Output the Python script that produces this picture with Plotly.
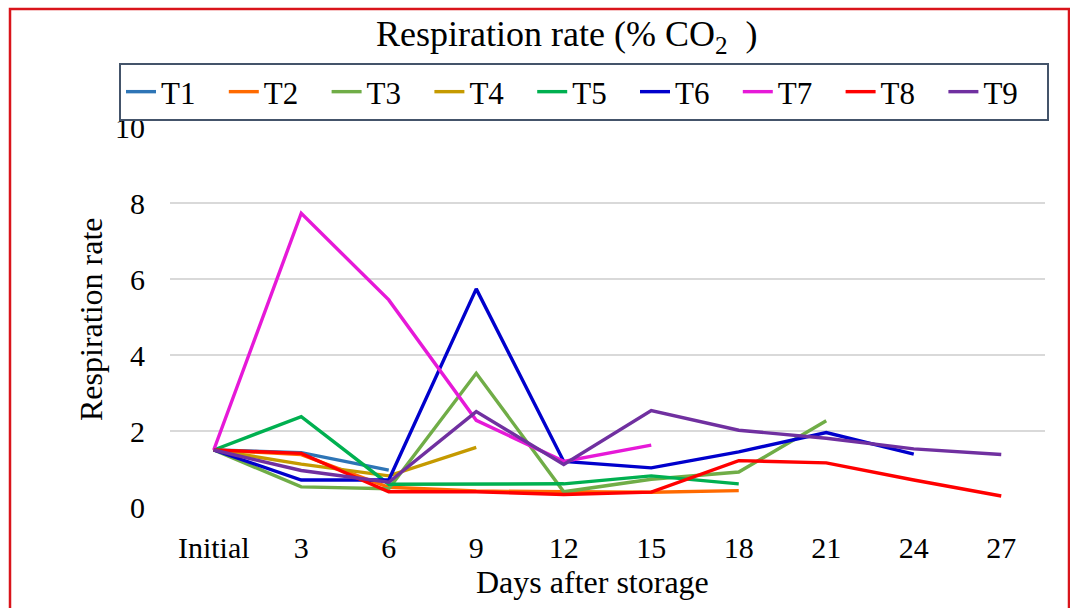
import plotly.graph_objects as go

categories = ["Initial", "3", "6", "9", "12", "15", "18", "21", "24", "27"]
series_names = ["T1", "T2", "T3", "T4", "T5", "T6", "T7", "T8", "T9"]

T1 = [1.5, 1.43, 0.97]
T2 = [1.5, 1.38, 0.52, 0.42, 0.40, 0.39, 0.43]
T3 = [1.5, 0.53, 0.48, 3.52, 0.40, 0.73, 0.92, 2.27]
T4 = [1.5, 1.13, 0.82, 1.57]
T5 = [1.5, 2.38, 0.60, 0.60, 0.61, 0.82, 0.61]
T6 = [1.5, 0.71, 0.71, 5.74, 1.20, 1.03, 1.45, 1.96, 1.39]
T7 = [1.5, 7.73, 5.45, 2.28, 1.20, 1.63]
T8 = [1.5, 1.41, 0.40, 0.40, 0.33, 0.39, 1.22, 1.16, 0.71, 0.29]
T9 = [1.5, 0.96, 0.65, 2.51, 1.12, 2.54, 2.02, 1.81, 1.53, 1.38]

values = [T1, T2, T3, T4, T5, T6, T7, T8, T9]
colors = ["#2E75B6", "#FF6A00", "#70AD47", "#C59A00", "#00B050",
          "#0000CC", "#E619D8", "#FF0000", "#7030A0"]

FONT = "Liberation Serif"

# layout geometry (pixels)
W, H = 1070, 608
L, R, T, B = 170, 25, 127, 101
PW, PH = W - L - R, H - T - B


def px_x(p):
    return (p - L) / PW


def px_y(p):
    return (H - B - p) / PH


fig = go.Figure()
for name, vals, col in zip(series_names, values, colors):
    fig.add_trace(go.Scatter(
        x=categories[:len(vals)], y=vals, name=name, mode="lines",
        line=dict(color=col, width=3.4),
    ))

fig.update_layout(
    width=W, height=H,
    margin=dict(l=L, r=R, t=T, b=B),
    paper_bgcolor="white", plot_bgcolor="white",
    font=dict(family=FONT, color="black", size=30),
    showlegend=True,
    legend=dict(
        orientation="h", x=px_x(119), xanchor="left",
        y=px_y(63), yanchor="top",
        bordercolor="#44546A", borderwidth=2, bgcolor="rgba(0,0,0,0)",
        font=dict(family=FONT, size=31, color="black"),
        entrywidth=57.8, entrywidthmode="pixels",
        itemwidth=30, tracegroupgap=0,
    ),
    xaxis=dict(
        type="category", categoryorder="array", categoryarray=categories,
        range=[-0.5, 9.5], showgrid=False, showline=False, zeroline=False,
        ticks="", ticklabelstandoff=20,
        tickfont=dict(family=FONT, size=30, color="black"),
    ),
    yaxis=dict(
        range=[0, 10], dtick=2, showgrid=True, gridcolor="#D9D9D9",
        gridwidth=1.5, zeroline=False, showline=False, ticks="",
        ticklabelstandoff=24,
        tickfont=dict(family=FONT, size=30, color="black"),
    ),
    shapes=[
        dict(type="rect", xref="paper", yref="paper",
             x0=px_x(10), x1=px_x(1069), y0=px_y(640), y1=px_y(9),
             line=dict(color="#D9141B", width=2.5), fillcolor="rgba(0,0,0,0)",
             layer="above"),
    ],
    annotations=[
        dict(text="Respiration rate (% CO<sub>2</sub>  )", xref="paper", yref="paper",
             x=px_x(567), y=px_y(37), xanchor="center", yanchor="middle",
             showarrow=False, font=dict(family=FONT, size=36, color="black")),
        dict(text="Days after storage", xref="paper", yref="paper",
             x=px_x(592), y=px_y(582), xanchor="center", yanchor="middle",
             showarrow=False, font=dict(family=FONT, size=32, color="black")),
        dict(text="Respiration rate", xref="paper", yref="paper",
             x=px_x(91), y=px_y(320), xanchor="center", yanchor="middle",
             textangle=-90, showarrow=False,
             font=dict(family=FONT, size=32, color="black")),
    ],
)

fig.write_html("out.html")
